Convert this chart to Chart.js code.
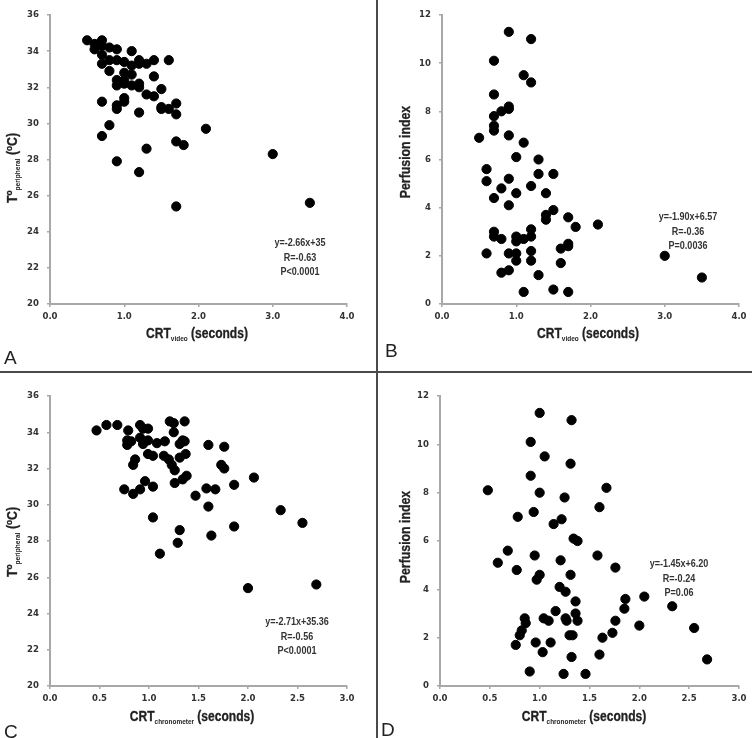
<!DOCTYPE html>
<html>
<head>
<meta charset="utf-8">
<script src="https://cdn.jsdelivr.net/npm/chart.js@4.4.1/dist/chart.umd.min.js"></script>
<style>
  body { margin: 0; background: #fff; }
  #fig { position: relative; width: 752px; height: 738px; overflow: hidden;
         font-family: 'Liberation Sans', Arial, sans-serif; color: #222; }
  .panel { position: absolute; width: 376px; height: 369px; }
  .t { position: absolute; transform: translate(-50%, -50%) scaleX(0.86); white-space: nowrap; }
  .axt { font-size: 14px; font-weight: bold; -webkit-text-stroke: 0.3px #222; }
  .axt sub { font-size: 7.5px; vertical-align: -3px; -webkit-text-stroke: 0; }
  .axt sup { font-size: 9.5px; vertical-align: 5px; }
  .t.rot { transform: translate(-50%, -50%) rotate(-90deg) scaleX(0.88); }
  .reg { font-size: 11px; font-weight: bold; text-align: center; line-height: 14.5px; color: #333; }
  .t.reg { transform: translate(-50%, -50%) scaleX(0.82); }
  .letter { position: absolute; font-size: 19px; }
  .vline { position: absolute; left: 376px; top: 0; width: 2px; height: 738px; background: #4a4a4a; }
  .hline { position: absolute; left: 0; top: 371px; width: 752px; height: 2px; background: #4a4a4a; }
</style>
</head>
<body>
<div id="fig">
  <canvas id="cA" class="panel" width="376" height="369" style="left:0;top:0"></canvas>
  <canvas id="cB" class="panel" width="376" height="369" style="left:376px;top:0"></canvas>
  <canvas id="cC" class="panel" width="376" height="369" style="left:0;top:369px"></canvas>
  <canvas id="cD" class="panel" width="376" height="369" style="left:376px;top:369px"></canvas>

  <div class="vline"></div>
  <div class="hline"></div>

  <!-- A -->
  <div class="t axt rot" style="left:12px;top:168px">T<sup>o</sup><sub>peripheral</sub> (<sup>o</sup>C)</div>
  <div class="t axt" style="left:197px;top:334px">CRT<sub>video</sub> (seconds)</div>
  <div class="t reg" style="left:300px;top:257px">y=-2.66x+35<br>R=-0.63<br>P&lt;0.0001</div>
  <div class="letter" style="left:4px;top:347px">A</div>

  <!-- B -->
  <div class="t axt rot" style="left:405px;top:152px">Perfusion index</div>
  <div class="t axt" style="left:588px;top:334px">CRT<sub>video</sub> (seconds)</div>
  <div class="t reg" style="left:688px;top:231px">y=-1.90x+6.57<br>R=-0.36<br>P=0.0036</div>
  <div class="letter" style="left:385px;top:340px">B</div>

  <!-- C -->
  <div class="t axt rot" style="left:12px;top:542px">T<sup>o</sup><sub>peripheral</sub> (<sup>o</sup>C)</div>
  <div class="t axt" style="left:192px;top:717px">CRT<sub>chronometer</sub> (seconds)</div>
  <div class="t reg" style="left:297px;top:636px">y=-2.71x+35.36<br>R=-0.56<br>P&lt;0.0001</div>
  <div class="letter" style="left:4px;top:721px">C</div>

  <!-- D -->
  <div class="t axt rot" style="left:405px;top:537px">Perfusion index</div>
  <div class="t axt" style="left:584px;top:717px">CRT<sub>chronometer</sub> (seconds)</div>
  <div class="t reg" style="left:679px;top:578px">y=-1.45x+6.20<br>R=-0.24<br>P=0.06</div>
  <div class="letter" style="left:381px;top:719px">D</div>
</div>

<script>
// tick values
const xTicksVideo = [0, 1, 2, 3, 4];
const xTicksChrono = [0, 0.5, 1, 1.5, 2, 2.5, 3];
const yTicksTemp = [20, 22, 24, 26, 28, 30, 32, 34, 36];
const yTicksPerf = [0, 2, 4, 6, 8, 10, 12];

// A: CRT video vs peripheral temperature
const crtVideoA = [0.5, 0.6, 0.6, 0.65, 0.7, 0.7, 0.8, 0.9, 1.1, 0.7, 0.7, 0.8, 0.9, 1.0, 1.1, 1.2, 1.2, 1.3, 1.4, 1.6,
  0.8, 1.0, 1.1, 1.4, 0.9, 1.0, 0.9, 1.0, 1.1, 1.2, 1.2, 1.5, 1.3, 1.4, 0.7, 1.0, 1.0, 0.9, 0.9, 1.2,
  1.5, 1.5, 1.6, 1.7, 1.7, 0.8, 0.7, 2.1, 1.7, 1.8, 1.3, 3.0, 0.9, 1.2, 3.5, 1.7];
const tempA = [34.6, 34.4, 34.1, 34.35, 34.6, 34.3, 34.2, 34.1, 34.0, 33.8, 33.3, 33.5, 33.5, 33.4, 33.2, 33.5, 33.3, 33.3, 33.5, 33.5,
  32.9, 32.8, 32.7, 32.6, 32.4, 32.4, 32.1, 32.2, 32.1, 32.2, 32.0, 31.9, 31.6, 31.5, 31.2, 31.4, 31.2, 31.0, 30.8, 30.6,
  30.9, 30.8, 30.8, 31.1, 30.5, 29.9, 29.3, 29.7, 29.0, 28.8, 28.6, 28.3, 27.9, 27.3, 25.6, 25.4];

// B: CRT video vs perfusion index
const crtVideoB = [0.9, 1.2, 0.7, 1.1, 1.2, 0.7, 0.9, 0.9, 0.8, 0.7, 0.7, 0.7, 0.5, 0.9, 1.1, 1.0, 1.3, 0.6, 0.6, 0.9,
  1.3, 1.5, 0.8, 1.2, 0.7, 1.0, 1.4, 0.9, 1.5, 1.4, 1.4, 1.7, 1.8, 2.1, 0.7, 0.7, 0.8, 1.0, 1.0, 1.1,
  1.2, 1.2, 0.6, 0.9, 1.0, 1.0, 1.2, 1.2, 1.6, 1.7, 1.7, 1.6, 3.0, 0.8, 0.9, 1.3, 3.5, 1.1, 1.5, 1.7];
const perfB = [11.3, 11.0, 10.1, 9.5, 9.2, 8.7, 8.2, 8.1, 8.0, 7.8, 7.4, 7.2, 6.9, 7.0, 6.7, 6.1, 6.0, 5.6, 5.1, 5.2,
  5.4, 5.4, 4.8, 4.9, 4.4, 4.6, 4.6, 4.1, 3.9, 3.7, 3.5, 3.6, 3.2, 3.3, 3.0, 2.8, 2.7, 2.8, 2.6, 2.7,
  3.1, 2.8, 2.1, 2.1, 2.1, 1.8, 2.2, 1.8, 2.3, 2.5, 2.4, 1.7, 2.0, 1.3, 1.4, 1.2, 1.1, 0.5, 0.6, 0.5];

// C: CRT chronometer vs peripheral temperature
const crtChronoC = [0.47, 0.57, 0.68, 0.79, 0.91, 0.94, 0.99, 1.21, 1.25, 1.36, 1.25, 0.78, 0.78, 0.82, 0.91, 0.94, 0.99, 1.08, 1.16, 1.31,
  1.34, 1.36, 1.60, 1.76, 0.99, 1.04, 1.15, 1.20, 1.23, 1.26, 1.31, 1.37, 0.86, 0.84, 1.73, 1.76, 1.26, 1.34, 1.38, 2.06,
  0.96, 1.04, 0.91, 0.75, 0.84, 1.47, 1.58, 1.67, 1.86, 1.60, 1.04, 2.33, 2.55, 1.31, 1.63, 1.86, 1.29, 1.11, 2.00, 2.69];
const tempC = [34.1, 34.4, 34.4, 34.1, 34.4, 34.2, 34.2, 34.6, 34.5, 34.6, 34.0, 33.55, 33.3, 33.5, 33.7, 33.35, 33.55, 33.4, 33.5, 33.35,
  33.55, 33.5, 33.3, 33.2, 32.8, 32.7, 32.7, 32.5, 32.2, 31.9, 32.6, 32.8, 32.5, 32.2, 32.2, 32.0, 31.2, 31.4, 31.6, 31.5,
  31.3, 31.0, 30.85, 30.85, 30.6, 30.5, 30.9, 30.85, 31.1, 29.9, 29.3, 29.7, 29.0, 28.6, 28.3, 28.8, 27.9, 27.3, 25.4, 25.6];

// D: CRT chronometer vs perfusion index
const crtChronoD = [1.00, 1.32, 0.91, 1.05, 1.31, 0.91, 0.48, 1.00, 1.25, 1.67, 1.60, 0.78, 0.94, 1.14, 1.22, 1.34, 1.38, 0.68, 0.58, 0.95,
  1.21, 1.58, 1.76, 0.77, 1.00, 0.97, 1.31, 1.20, 1.26, 1.36, 1.86, 2.05, 2.33, 1.85, 1.16, 1.36, 1.38, 1.76, 1.26, 1.27,
  0.85, 0.86, 1.04, 1.09, 0.82, 0.80, 2.00, 2.55, 1.73, 1.30, 1.33, 1.63, 0.76, 0.96, 1.11, 1.03, 1.32, 1.60, 2.68, 0.90,
  1.24, 1.46];
const perfD = [11.3, 11.0, 10.1, 9.5, 9.2, 8.7, 8.1, 8.0, 7.8, 8.2, 7.4, 7.0, 7.2, 6.7, 6.9, 6.1, 6.0, 5.6, 5.1, 5.4,
  5.2, 5.4, 4.9, 4.8, 4.6, 4.4, 4.6, 4.1, 3.9, 3.5, 3.6, 3.7, 3.3, 3.2, 3.1, 3.0, 2.7, 2.7, 2.8, 2.7,
  2.8, 2.6, 2.8, 2.7, 2.3, 2.1, 2.5, 2.4, 2.2, 2.1, 2.1, 2.0, 1.7, 1.8, 1.8, 1.4, 1.2, 1.3, 1.1, 0.6,
  0.5, 0.5];

const axisGrey = '#a8a8a8';
const tickFont = { family: "'DejaVu Sans Condensed', 'Liberation Sans', sans-serif", size: 9.5, weight: 'bold' };

function makePanel(id, xs, ys, xTicks, yTicks, box) {
  const pts = xs.map((x, i) => ({ x: x, y: ys[i] }));
  const fixTicks = (vals) => (scale) => { scale.ticks = vals.map(v => ({ value: v })); };
  return new Chart(document.getElementById(id), {
    type: 'scatter',
    data: {
      datasets: [{
        data: pts,
        backgroundColor: '#000',
        borderColor: '#000',
        pointRadius: 4.6,
        pointHoverRadius: 4.6,
      }],
    },
    options: {
      responsive: false,
      animation: false,
      devicePixelRatio: 1,
      layout: { padding: { left: 0, top: box.top, right: box.right, bottom: 0 } },
      plugins: { legend: { display: false }, tooltip: { enabled: false } },
      scales: {
        x: {
          type: 'linear',
          min: xTicks[0],
          max: xTicks[xTicks.length - 1],
          afterBuildTicks: fixTicks(xTicks),
          afterFit: (s) => { s.height = box.bottom; },
          grid: { drawOnChartArea: false, drawTicks: true, tickLength: 3, color: axisGrey, lineWidth: 1.5 },
          border: { color: axisGrey, width: 2 },
          ticks: { color: '#333', font: tickFont, padding: 4, maxRotation: 0,
                   callback: (v) => Number(v).toFixed(1) },
        },
        y: {
          type: 'linear',
          min: yTicks[0],
          max: yTicks[yTicks.length - 1],
          afterBuildTicks: fixTicks(yTicks),
          afterFit: (s) => { s.width = box.left; },
          grid: { drawOnChartArea: false, drawTicks: true, tickLength: 3, color: axisGrey, lineWidth: 1.5 },
          border: { color: axisGrey, width: 2 },
          ticks: { color: '#333', font: tickFont, padding: 8 },
        },
      },
    },
  });
}

makePanel('cA', crtVideoA, tempA, xTicksVideo, yTicksTemp, { left: 50, right: 29, top: 15, bottom: 65 });
makePanel('cB', crtVideoB, perfB, xTicksVideo, yTicksPerf, { left: 66, right: 13, top: 15, bottom: 65 });
makePanel('cC', crtChronoC, tempC, xTicksChrono, yTicksTemp, { left: 50, right: 29, top: 27, bottom: 52 });
makePanel('cD', crtChronoD, perfD, xTicksChrono, yTicksPerf, { left: 64, right: 13, top: 27, bottom: 52 });
</script>
</body>
</html>
